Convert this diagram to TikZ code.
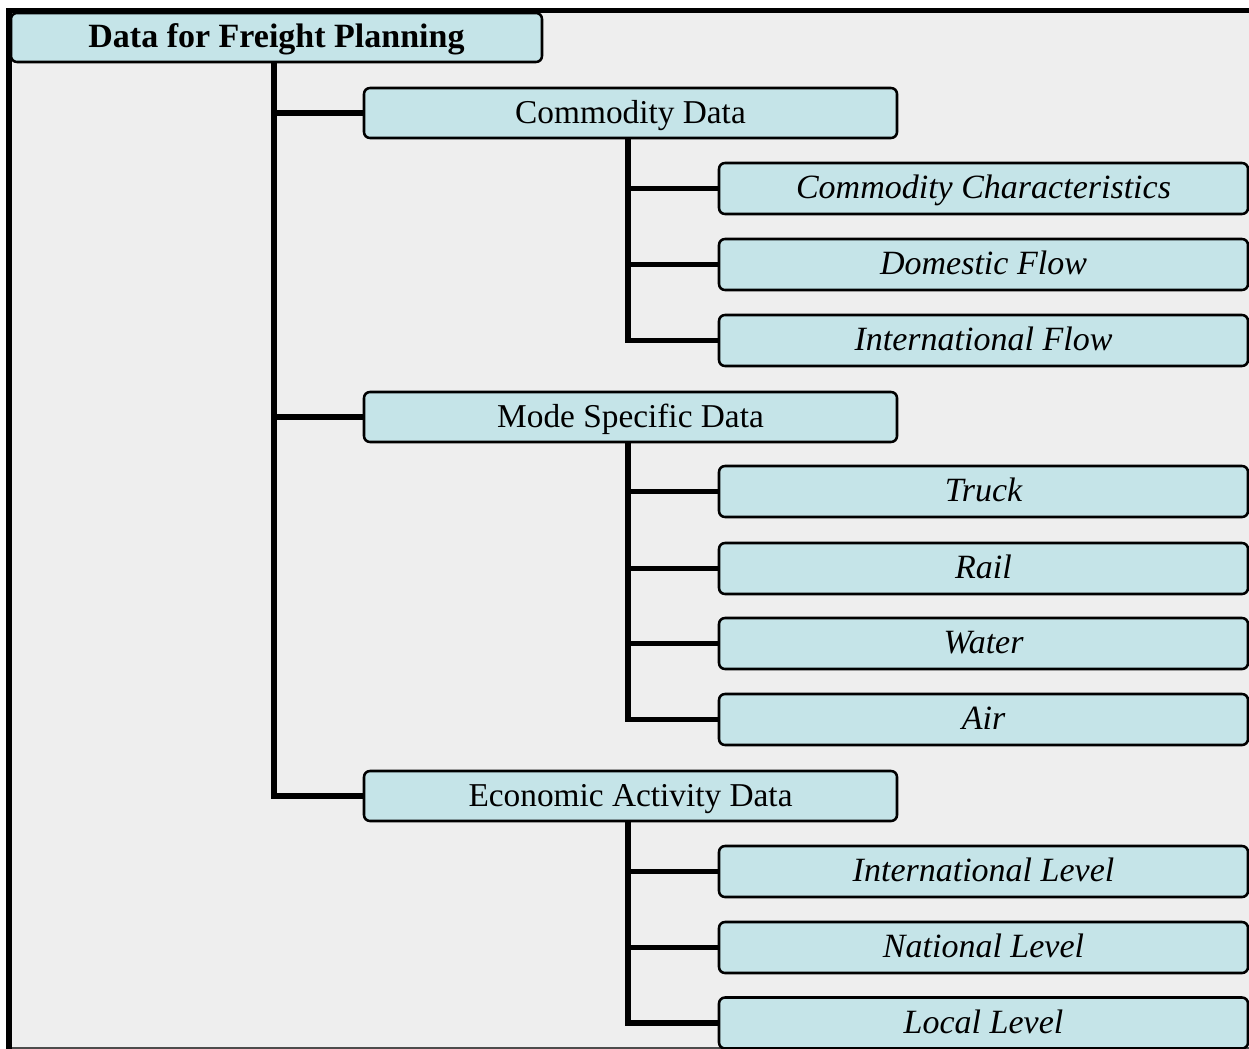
\documentclass[tikz,border=0pt]{standalone}
\usepackage{fontspec}
\setmainfont{Liberation Serif}
\definecolor{boxfill}{HTML}{C5E4E8}
\definecolor{bgfill}{HTML}{EEEEEE}
\begin{document}
\begin{tikzpicture}[x=0.75pt,y=-0.75pt,
  box/.style={draw=black, line width=1.9pt, rounded corners=4.5pt, fill=boxfill,
    inner sep=0pt, text height=19pt, text depth=4pt, font=\fontsize{25}{30}\selectfont},
  rootbox/.style={box, minimum width=398.25pt, minimum height=36.75pt, font=\fontsize{25.5}{30}\selectfont\bfseries},
  midbox/.style={box, minimum width=399.75pt, minimum height=37.5pt},
  leafbox/.style={box, minimum width=396.75pt, minimum height=38.25pt, font=\fontsize{25.5}{30}\selectfont\itshape},
  conn/.style={draw=black, line width=3.8pt}]
\useasboundingbox (0,0) rectangle (1249,1049);
% frame and background
\fill[bgfill] (12,13) rectangle (1249,1047);
\fill[black] (6,8) rectangle (1249,13);
\fill[black] (6,8) rectangle (12,1049);
\fill[black!70] (12,1047) rectangle (1249,1049);
% nodes
\node[rootbox] (root) at (276.5,37.5) {Data for Freight Planning};
\node[midbox] (c) at (630.5,113) {Commodity Data};
\node[midbox] (m) at (630.5,417) {Mode Specific Data};
\node[midbox] (e) at (630.5,796) {Economic Activity Data};
\node[leafbox] (c1) at (983.5,188.5) {Commodity Characteristics};
\node[leafbox] (c2) at (983.5,264.5) {Domestic Flow};
\node[leafbox] (c3) at (983.5,340.5) {International Flow};
\node[leafbox] (m1) at (983.5,491.5) {Truck};
\node[leafbox] (m2) at (983.5,568.5) {Rail};
\node[leafbox] (m3) at (983.5,643.5) {Water};
\node[leafbox] (m4) at (983.5,719.5) {Air};
\node[leafbox] (e1) at (983.5,871.5) {International Level};
\node[leafbox] (e2) at (983.5,947.5) {National Level};
\node[leafbox] (e3) at (983.5,1023) {Local Level};
% connectors
\coordinate (t) at (root.south -| 274,0);
\coordinate (ct) at (c.south -| 628,0);
\coordinate (mt) at (m.south -| 628,0);
\coordinate (et) at (e.south -| 628,0);
\draw[conn] (t) |- (c.west);
\draw[conn] (t) |- (m.west);
\draw[conn] (t) |- (e.west);
\draw[conn] (ct) |- (c1.west);
\draw[conn] (ct) |- (c2.west);
\draw[conn] (ct) |- (c3.west);
\draw[conn] (mt) |- (m1.west);
\draw[conn] (mt) |- (m2.west);
\draw[conn] (mt) |- (m3.west);
\draw[conn] (mt) |- (m4.west);
\draw[conn] (et) |- (e1.west);
\draw[conn] (et) |- (e2.west);
\draw[conn] (et) |- (e3.west);
\end{tikzpicture}
\end{document}
